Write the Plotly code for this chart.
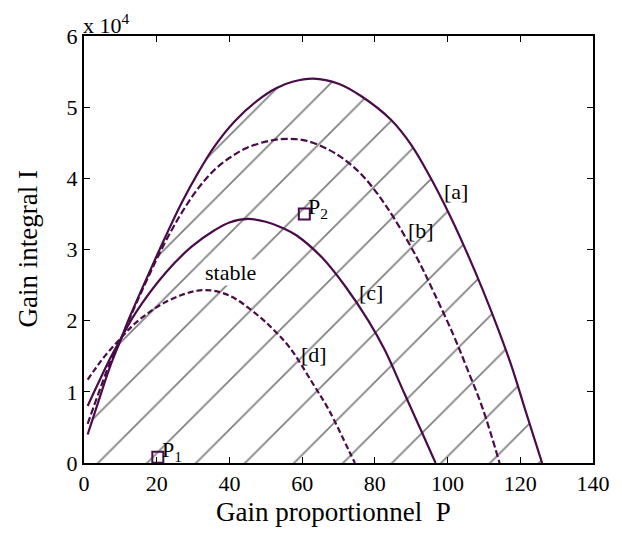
import plotly.graph_objects as go

# ---- data (I in units of 1e4) ----
P_a = [1, 4, 7, 10.4, 12.4, 17.8, 22.4, 26.8, 31.4, 35.9, 41.4, 47.6, 53, 57.6, 63, 70, 76.4,
       84.5, 90, 95.4, 100.8, 105.2, 109.7, 114.3, 117.8, 121.4, 126]
I_a = [0.40, 0.87, 1.33, 1.77, 2.03, 2.66, 3.18, 3.65, 4.08, 4.45, 4.80, 5.09, 5.27, 5.36, 5.40,
       5.33, 5.15, 4.82, 4.47, 4.00, 3.46, 2.97, 2.43, 1.83, 1.33, 0.74, 0.0]

P_b = [1, 4, 7, 10.4, 14, 18, 22.3, 26.8, 31.4, 35.9, 40.4, 44.9, 51.2, 56, 61, 67.4, 72, 76.4,
       80.9, 85.4, 91.6, 96.2, 101.6, 105.2, 109.7, 114.3]
I_b = [0.55, 0.98, 1.39, 1.77, 2.20, 2.65, 3.10, 3.51, 3.86, 4.12, 4.30, 4.43, 4.53, 4.555, 4.53,
       4.40, 4.25, 4.05, 3.77, 3.43, 2.88, 2.40, 1.80, 1.35, 0.76, 0.0]

P_c = [1, 4, 7, 10.4, 14.2, 22.4, 29.6, 35.9, 40, 45, 50, 54.8, 58.4, 65.6, 71.9, 78.2, 82.7,
       88.1, 92.6, 96.7]
I_c = [0.80, 1.13, 1.45, 1.77, 2.11, 2.67, 3.04, 3.27, 3.38, 3.43, 3.39, 3.30, 3.20, 2.88, 2.48,
       2.00, 1.59, 0.98, 0.47, 0.0]

P_d = [1, 3.2, 6, 10.4, 14, 18, 22, 26.8, 31, 35, 38.6, 42.2, 48.4, 52, 56.6, 62.9, 67.4, 72.8, 74.5]
I_d = [1.17, 1.33, 1.52, 1.77, 1.96, 2.12, 2.25, 2.36, 2.42, 2.425, 2.38, 2.29, 2.05, 1.88, 1.62,
       1.12, 0.74, 0.18, 0.0]

points_P = [20.3, 60.6]
points_I = [0.08, 3.50]
point_names = ["P<sub>1</sub>", "P<sub>2</sub>"]

curve_labels = ["[a]", "[b]", "[c]", "[d]"]
curve_label_P = [102.4, 92.6, 78.9, 63.3]
curve_label_I = [3.81, 3.27, 2.40, 1.52]

x_ticks = [0, 20, 40, 60, 80, 100, 120, 140]
y_ticks = [0, 1, 2, 3, 4, 5, 6]

PURPLE = "#4a0c48"
FONT = "Liberation Serif, Times New Roman, serif"

fig = go.Figure()

# hatched stable region under curve [a]
fig.add_trace(go.Scatter(
    x=P_a, y=I_a, mode="lines", line=dict(width=0, color="rgba(0,0,0,0)", shape="spline"),
    fill="tozeroy", fillcolor="rgba(0,0,0,0)",
    fillpattern=dict(shape="/", fgcolor="black", bgcolor="rgba(0,0,0,0)",
                     size=34.65, solidity=0.05),
    hoverinfo="skip", showlegend=False))

fig.add_trace(go.Scatter(x=P_a, y=I_a, mode="lines",
                         line=dict(color=PURPLE, width=2.2, shape="spline"), showlegend=False))
fig.add_trace(go.Scatter(x=P_b, y=I_b, mode="lines",
                         line=dict(color=PURPLE, width=2.2, dash="7px,3px", shape="spline"),
                         showlegend=False))
fig.add_trace(go.Scatter(x=P_c, y=I_c, mode="lines",
                         line=dict(color=PURPLE, width=2.2, shape="spline"), showlegend=False))
fig.add_trace(go.Scatter(x=P_d, y=I_d, mode="lines",
                         line=dict(color=PURPLE, width=2.2, dash="6px,3px", shape="spline"),
                         showlegend=False))

fig.add_trace(go.Scatter(x=points_P, y=points_I, mode="markers",
                         marker=dict(symbol="square-open", size=11,
                                     color=PURPLE, line=dict(width=2, color=PURPLE)),
                         cliponaxis=False, showlegend=False))

# labels of points
for px_, py_, name in zip(points_P, points_I, point_names):
    fig.add_annotation(x=px_, y=py_, text=name, showarrow=False, xanchor="left",
                       xshift=2, yshift=6, font=dict(family=FONT, size=22, color="black"))

for lab, lx, ly in zip(curve_labels, curve_label_P, curve_label_I):
    fig.add_annotation(x=lx, y=ly, text=lab, showarrow=False,
                       font=dict(family=FONT, size=22, color="black"))

fig.add_annotation(x=40.3, y=2.67, text="stable", showarrow=False,
                   font=dict(family=FONT, size=22, color="black"),
                   bgcolor="white", borderpad=0)

# exponent label
fig.add_annotation(xref="paper", yref="paper", x=0, y=1, xanchor="left", yanchor="bottom",
                   text="x 10<sup>4</sup>", showarrow=False, yshift=-4, xshift=-3,
                   font=dict(family=FONT, size=22, color="black"))

# axis titles
fig.add_annotation(xref="paper", yref="paper", x=0.49, y=0, yanchor="top", yshift=-32,
                   text="Gain proportionnel  P", showarrow=False,
                   font=dict(family=FONT, size=27, color="black"))
fig.add_annotation(xref="paper", yref="paper", x=0, y=0.5, xanchor="right", xshift=-40,
                   text="Gain integral I", showarrow=False, textangle=-90,
                   font=dict(family=FONT, size=27, color="black"))

axis_common = dict(showgrid=False, zeroline=False, showline=True, linecolor="black",
                   linewidth=2, mirror="ticks", ticks="inside", ticklen=6, tickwidth=1,
                   tickcolor="black", tickfont=dict(family=FONT, size=22, color="black"))

fig.update_xaxes(range=[0, 140], tickvals=x_ticks, ticktext=[str(v) for v in x_ticks],
                 **axis_common)
fig.update_yaxes(range=[0, 6], tickvals=y_ticks, ticktext=[str(v) for v in y_ticks],
                 **axis_common)

# the page body adds an 8px offset, so the figure is 8px smaller and margins compensate
fig.update_layout(width=614, height=535, margin=dict(l=76, r=20, t=28, b=80),
                  paper_bgcolor="white", plot_bgcolor="white",
                  font=dict(family=FONT, color="black"))

fig.write_html("out.html")
